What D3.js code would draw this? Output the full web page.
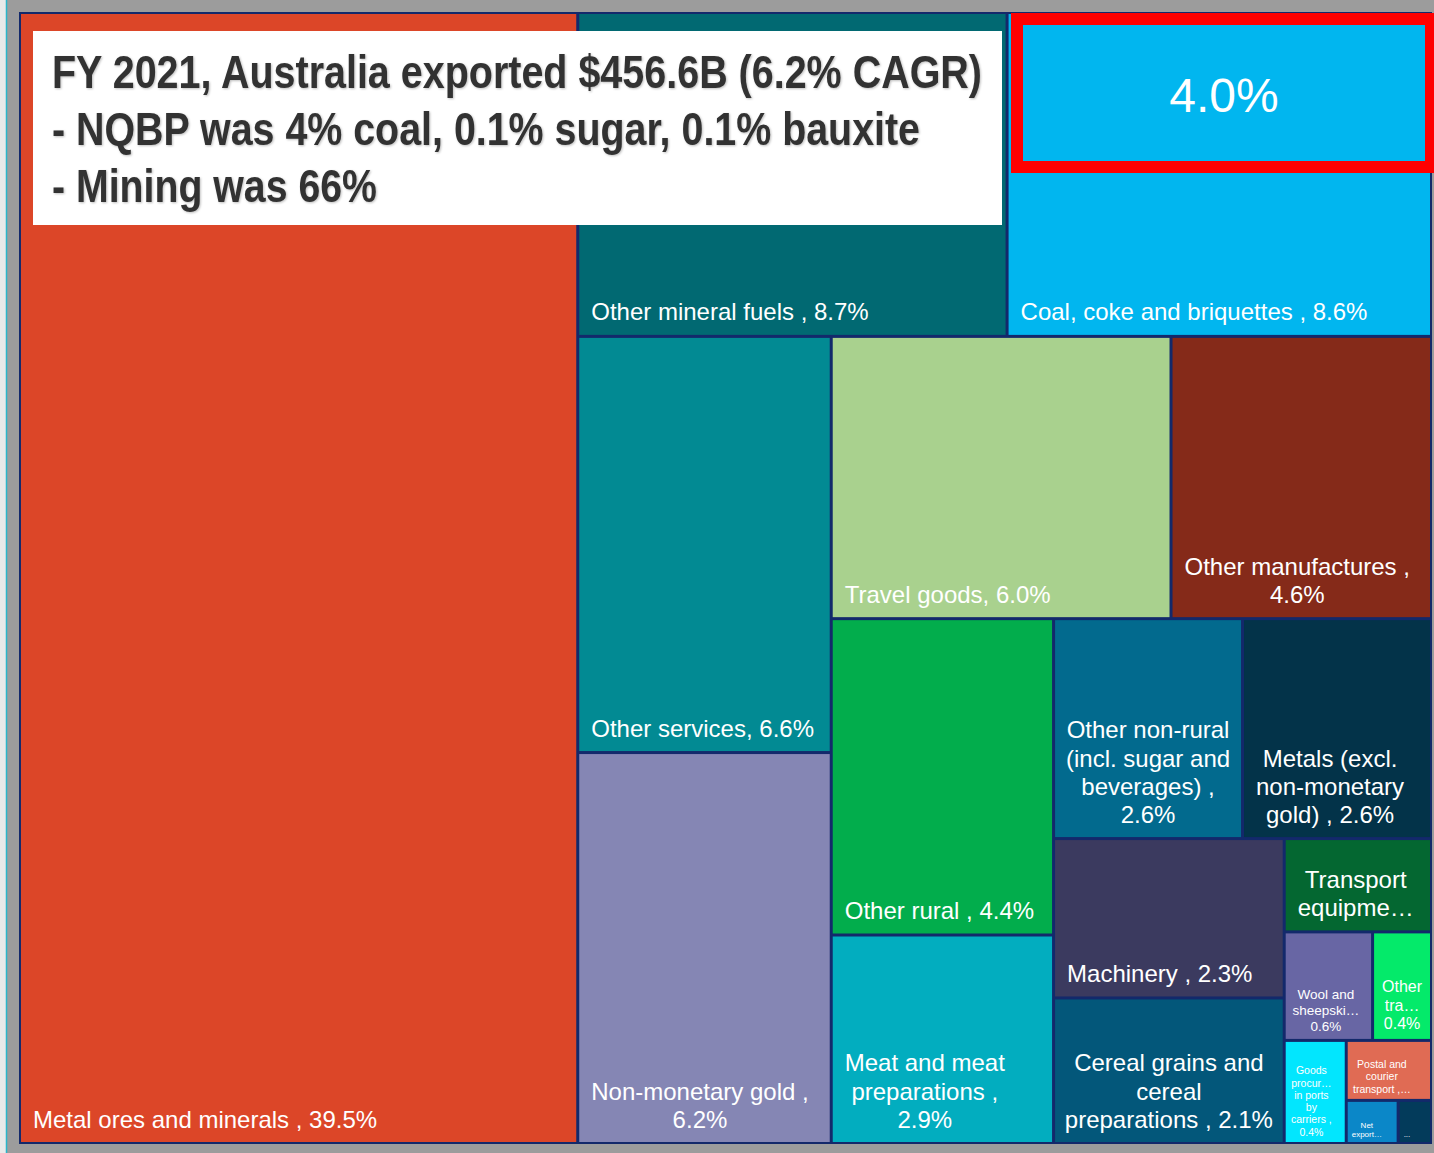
<!DOCTYPE html>
<meta charset="utf-8">
<style>
body { margin: 0; background: #9c9c9c; }
svg { display: block; }
.cell text { fill: #fff; font-family: "Liberation Sans", Arial, sans-serif; }
.title text { font-family: "Liberation Sans", Arial, sans-serif; font-weight: bold; }
</style>
<head>
<title>Australia exports FY 2021</title>
<script src="https://d3js.org/d3.v7.min.js"></script>
</head>
<body>
<script>

// export categories, in order, with share of total exports (%)
var categories = [
    "Metal ores and minerals ", "Other mineral fuels ", "Coal, coke and briquettes ",
    "Other services", "Non-monetary gold ", "Travel goods", "Other manufactures ",
    "Other rural ", "Meat and meat preparations ",
    "Other non-rural (incl. sugar and beverages) ", "Metals (excl. non-monetary gold) ",
    "Machinery ", "Cereal grains and cereal preparations ", "Transport equipment ",
    "Wool and sheepskins ", "Other transport services ", "Goods procured in ports by carriers ",
    "Postal and courier transport ", "Net exports of goods under merchanting ", "Other goods "
];
var shares = [39.5, 8.7, 8.6, 6.6, 6.2, 6.0, 4.6, 4.4, 2.9, 2.6, 2.6, 2.3, 2.1, 0.86, 0.6, 0.4, 0.4, 0.32, 0.14, 0.09];

var titleLines = [
    "FY 2021, Australia exported $456.6B (6.2% CAGR)",
    "- NQBP was 4% coal, 0.1% sugar, 0.1% bauxite",
    "- Mining was 66%"
];
var nqbpCoalShare = 4.0;

// cell colours
var colour = {
    "Metal ores and minerals ": "#dc4628", "Other mineral fuels ": "#016972",
    "Coal, coke and briquettes ": "#01b6ef", "Other services": "#028a93",
    "Non-monetary gold ": "#8586b4", "Travel goods": "#a9d18e",
    "Other manufactures ": "#852a19", "Other rural ": "#02ad4c",
    "Meat and meat preparations ": "#02adbf", "Other non-rural (incl. sugar and beverages) ": "#026a8e",
    "Metals (excl. non-monetary gold) ": "#033349", "Machinery ": "#3b3a5f",
    "Cereal grains and cereal preparations ": "#03577a", "Transport equipment ": "#046731",
    "Wool and sheepskins ": "#6866a4", "Other transport services ": "#04ea6a",
    "Goods procured in ports by carriers ": "#02e6fe", "Postal and courier transport ": "#e06b54",
    "Net exports of goods under merchanting ": "#0b87c8", "Other goods ": "#033b5b"
};

// how the labels wrap / get cut in the small cells
var labelLines = {
    "Non-monetary gold ": ["Non-monetary gold ,", "6.2%"],
    "Other manufactures ": ["Other manufactures ,", "4.6%"],
    "Meat and meat preparations ": ["Meat and meat", "preparations ,", "2.9%"],
    "Other non-rural (incl. sugar and beverages) ": ["Other non-rural", "(incl. sugar and", "beverages) ,", "2.6%"],
    "Metals (excl. non-monetary gold) ": ["Metals (excl.", "non-monetary", "gold) , 2.6%"],
    "Cereal grains and cereal preparations ": ["Cereal grains and", "cereal", "preparations , 2.1%"],
    "Transport equipment ": ["Transport", "equipme\u2026"],
    "Wool and sheepskins ": ["Wool and", "sheepski\u2026", "0.6%"],
    "Other transport services ": ["Other", "tra\u2026", "0.4%"],
    "Goods procured in ports by carriers ": ["Goods", "procur\u2026", "in ports", "by", "carriers ,", "0.4%"],
    "Postal and courier transport ": ["Postal and", "courier", "transport ,\u2026"],
    "Net exports of goods under merchanting ": ["Net", "export\u2026"],
    "Other goods ": ["..."]
};
var labelSize = {
    "Wool and sheepskins ": 13.5, "Other transport services ": 16,
    "Goods procured in ports by carriers ": 10.5, "Postal and courier transport ": 10.5,
    "Net exports of goods under merchanting ": 8, "Other goods ": 8
};

var W = 1434, H = 1153;
var svg = d3.select("body").append("svg")
    .attr("width", W)
    .attr("height", H);

var defs = svg.append("defs");
var shadow = defs.append("filter").attr("id", "soft").attr("x", "-5%").attr("y", "-20%").attr("width", "110%").attr("height", "140%");
shadow.append("feDropShadow").attr("dx", 1).attr("dy", 1).attr("stdDeviation", 0.8)
    .attr("flood-color", "#000").attr("flood-opacity", 0.25);

// page edge
svg.append("rect").attr("x", 0).attr("y", 0).attr("width", 6).attr("height", H).attr("fill", "#e9e9e9");
svg.append("line").attr("x1", 6.5).attr("x2", 6.5).attr("y1", 0).attr("y2", H)
    .attr("stroke", "#2bb5c9").attr("stroke-width", 1.5);

// strips: how many cells go in each row / column, like the original layout
var stripSizes = [1, 2, 2, 2, 2, 2, 2, 1, 2, 1, 1, 1, 1];

function stripTile(parent, x0, y0, x1, y1) {
    var nodes = parent.children, value = parent.value, i = 0;
    stripSizes.forEach(function(n) {
        var row = nodes.slice(i, i + n);
        var s = d3.sum(row, function(d) { return d.value; });
        var part = { children: row, value: s };
        if (x1 - x0 >= y1 - y0) {
            var xm = x0 + (x1 - x0) * s / value;
            d3.treemapSlice(part, x0, y0, xm, y1);
            x0 = xm;
        } else {
            var ym = y0 + (y1 - y0) * s / value;
            d3.treemapDice(part, x0, y0, x1, ym);
            y0 = ym;
        }
        value -= s;
        i += n;
    });
}

var box = { left: 19, top: 12, right: 1432, bottom: 1144 };

var root = d3.hierarchy({ children: categories.map(function(c, i) { return { name: c, value: shares[i] }; }) })
    .sum(function(d) { return d.value || 0; });

d3.treemap()
    .tile(stripTile)
    .size([box.right - box.left, box.bottom - box.top])
    .paddingInner(3)
    .paddingOuter(2)(root);

var tm = svg.append("g")
    .attr("transform", "translate(" + box.left + "," + box.top + ")");

tm.append("rect")
    .attr("width", box.right - box.left)
    .attr("height", box.bottom - box.top)
    .attr("fill", "#13296b");

var cell = tm.selectAll("g.cell")
    .data(root.leaves())
    .enter().append("g")
    .attr("class", "cell");

cell.append("rect")
    .attr("x", function(d) { return d.x0; })
    .attr("y", function(d) { return d.y0; })
    .attr("width", function(d) { return d.x1 - d.x0; })
    .attr("height", function(d) { return d.y1 - d.y0; })
    .attr("fill", function(d) { return colour[d.data.name]; });

cell.each(function(d) {
    var g = d3.select(this);
    var fs = labelSize[d.data.name] || 24;
    var lines = labelLines[d.data.name] || [d.data.name + ", " + d.data.value.toFixed(1) + "%"];
    var lh = fs * 1.17;
    var texts = g.selectAll("text")
        .data(lines)
        .enter().append("text")
        .attr("font-size", fs)
        .attr("text-anchor", "middle")
        .text(function(l) { return l; });
    var bw = 0;
    texts.each(function() { bw = Math.max(bw, this.getComputedTextLength()); });
    var w = d.x1 - d.x0;
    var pad = Math.min(fs * 0.5, (w - bw) / 2);
    var cx = d.x0 + pad + bw / 2;
    var lastBase = d.y1 - fs * 0.6;
    texts.attr("x", cx)
        .attr("y", function(l, i) { return lastBase - (lines.length - 1 - i) * lh; });
});

// title box
var title = svg.append("g").attr("class", "title");
title.append("rect")
    .attr("x", 33).attr("y", 31)
    .attr("width", 969).attr("height", 194)
    .attr("fill", "#fff");

var titleWidths = [930, 868, 325];
titleLines.forEach(function(t, i) {
    title.append("text")
        .attr("x", 52)
        .attr("y", 88 + i * 57)
        .attr("font-size", 47)
        .attr("fill", "#333333")
        .attr("filter", "url(#soft)")
        .attr("textLength", titleWidths[i])
        .attr("lengthAdjust", "spacingAndGlyphs")
        .text(t);
});

// highlight on the coal cell: NQBP share
var hl = svg.append("g");
hl.append("rect")
    .attr("x", 1017).attr("y", 19)
    .attr("width", 414).attr("height", 148)
    .attr("fill", "#01b6ef")
    .attr("stroke", "#ff0000")
    .attr("stroke-width", 12);
hl.append("text")
    .attr("x", 1224).attr("y", 112)
    .attr("text-anchor", "middle")
    .attr("font-family", "'Liberation Sans', Arial, sans-serif")
    .attr("font-size", 48)
    .attr("fill", "#fff")
    .text(nqbpCoalShare.toFixed(1) + "%");

</script>
</body>
</html>
